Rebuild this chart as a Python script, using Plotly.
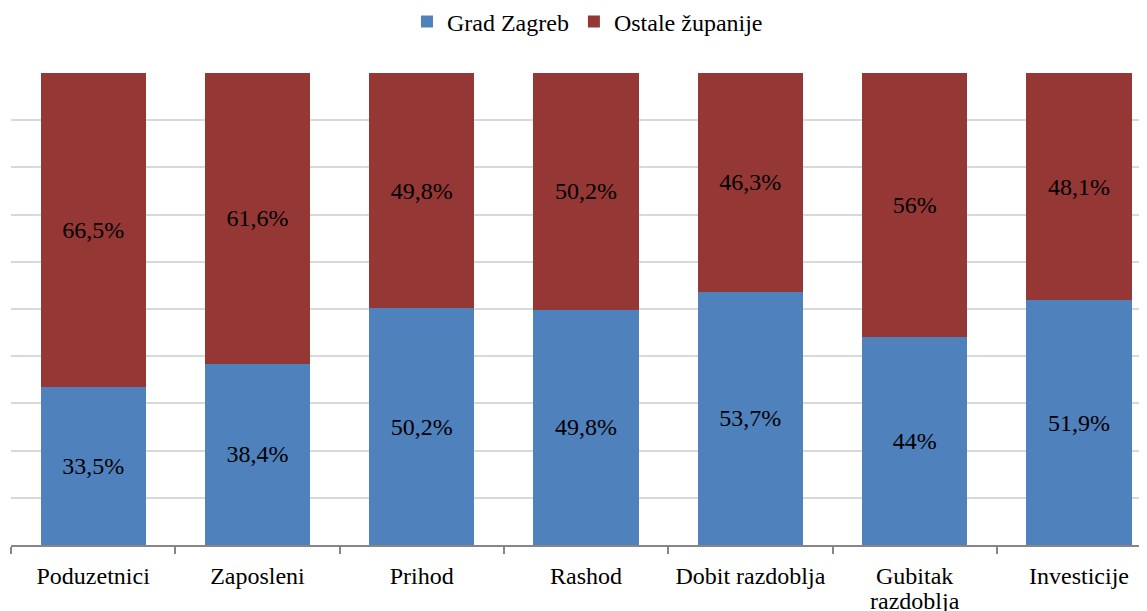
import plotly.graph_objects as go

categories = ["Poduzetnici", "Zaposleni", "Prihod", "Rashod", "Dobit razdoblja", "Gubitak razdoblja", "Investicije"]
tick_labels = ["Poduzetnici", "Zaposleni", "Prihod", "Rashod", "Dobit razdoblja", "Gubitak", "Investicije"]
wrapped_label_category = "Gubitak razdoblja"
wrapped_label_second_line = "razdoblja"
grad_zagreb = [33.5, 38.4, 50.2, 49.8, 53.7, 44, 51.9]
ostale_zupanije = [66.5, 61.6, 49.8, 50.2, 46.3, 56, 48.1]
series_names = ["Grad Zagreb", "Ostale županije"]
y_ticks = [0, 10, 20, 30, 40, 50, 60, 70, 80, 90, 100]


def fmt(v):
    return f"{v:g}".replace(".", ",") + "%"


FONT = "Times New Roman, Liberation Serif, serif"
FS = 24

W, H = 1139, 603  # page body adds an 8px margin
PLOT_H = H - 65 - 66

fig = go.Figure()
fig.add_trace(go.Bar(
    x=categories, y=grad_zagreb, name=series_names[0],
    marker=dict(color="#4F81BD", line=dict(width=0)),
    text=[fmt(v) for v in grad_zagreb], textposition="inside",
    insidetextanchor="middle", textangle=0,
    textfont=dict(family=FONT, size=FS, color="black"),
    hoverinfo="skip",
))
fig.add_trace(go.Bar(
    x=categories, y=ostale_zupanije, name=series_names[1],
    marker=dict(color="#953735", line=dict(width=0)),
    text=[fmt(v) for v in ostale_zupanije], textposition="inside",
    insidetextanchor="middle", textangle=0,
    textfont=dict(family=FONT, size=FS, color="black"),
    hoverinfo="skip",
))

fig.add_annotation(
    x=wrapped_label_category, xref="x", y=-56 / PLOT_H, yref="paper",
    text=wrapped_label_second_line, showarrow=False,
    xanchor="center", yanchor="middle",
    font=dict(family=FONT, size=FS, color="black"),
)

fig.update_layout(
    width=W, height=H,
    margin=dict(l=3, r=0, t=65, b=66, autoexpand=False),
    barmode="stack", bargap=0.36,
    plot_bgcolor="white", paper_bgcolor="white",
    font=dict(family=FONT, size=FS, color="black"),
    legend=dict(
        orientation="h", x=578 / W, xanchor="center",
        yref="container", y=1 - 14 / H, yanchor="middle",
        font=dict(family=FONT, size=FS, color="black"),
        traceorder="normal", tracegroupgap=0,
    ),
    showlegend=True,
)
fig.update_xaxes(
    type="category", categoryorder="array", categoryarray=categories,
    tickmode="array", tickvals=categories, ticktext=tick_labels,
    range=[-0.5, 6.414], tickangle=0, automargin=False,
    showgrid=False, showline=True, linecolor="#868686", linewidth=1.5,
    ticks="outside", tickson="boundaries", ticklen=7, tickcolor="#868686", tickwidth=1.5,
    ticklabelstandoff=8,
    tickfont=dict(family=FONT, size=FS, color="black"),
    fixedrange=True,
)
fig.update_yaxes(
    range=[0, 100], tickmode="array", tickvals=y_ticks, automargin=False,
    showticklabels=False, showgrid=True, gridcolor="#D9D9D9", gridwidth=2,
    zeroline=False, showline=False, fixedrange=True,
)

fig.write_html("out.html")
